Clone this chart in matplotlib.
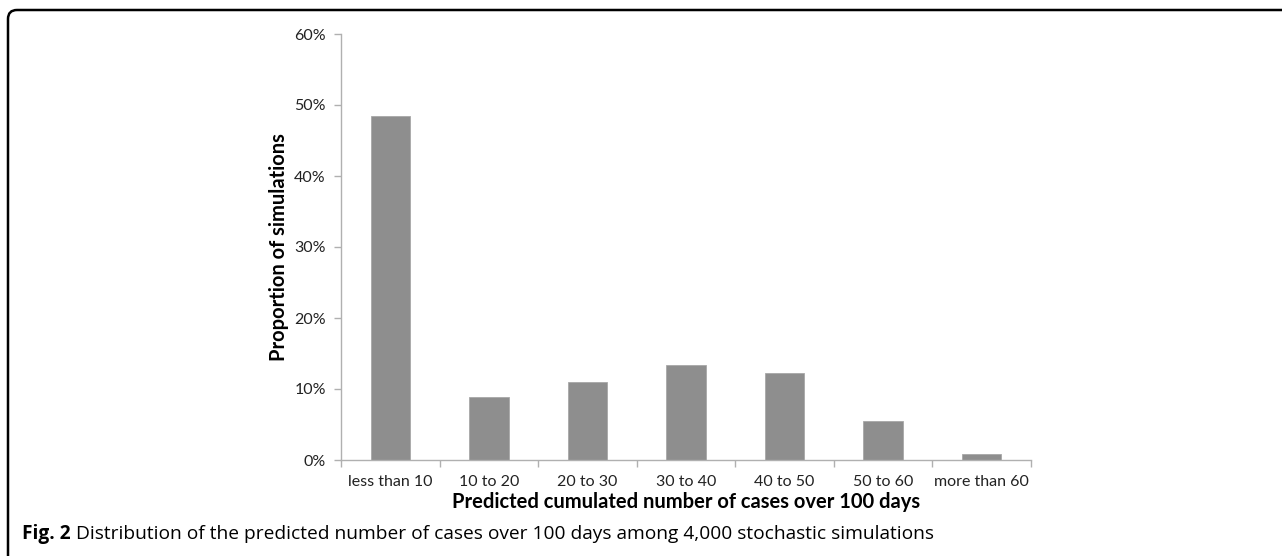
import numpy as np
import matplotlib.pyplot as plt
from matplotlib.patches import FancyBboxPatch

categories = ['less than 10', '10 to 20', '20 to 30', '30 to 40', '40 to 50', '50 to 60', 'more than 60']
proportions = [48.4, 8.9, 11.0, 13.4, 12.2, 5.5, 0.85]
yticks = [0, 10, 20, 30, 40, 50, 60]

plt.rcParams['font.family'] = ['Lato', 'DejaVu Sans']

fig = plt.figure(figsize=(12.82, 5.56), dpi=100)
ax = fig.add_axes([341/1282, 1-460/556, 690/1282, 426/556])

x = np.arange(len(categories))
ax.bar(x, proportions, width=0.4, color='#8e8e8e', edgecolor='#a8a8a8', linewidth=0.6)

ax.set_xlim(-0.5, len(categories) - 0.5)
ax.set_ylim(0, 60)
ax.set_yticks(yticks)
ax.set_yticklabels([f'{v}%' for v in yticks], fontsize=11.5, color='#222222')
ax.set_xticks(x)
ax.set_xticklabels(categories, fontsize=11.5, color='#222222')
ax.tick_params(axis='x', which='major', length=0, pad=11)
ax.set_xticks(np.arange(-0.5, len(categories)), minor=True)
ax.tick_params(axis='x', which='minor', length=5, color='#b0b0b0', width=1)
ax.tick_params(axis='y', length=5, color='#b0b0b0', width=1, pad=6)

for s in ['top', 'right']:
    ax.spines[s].set_visible(False)
for s in ['left', 'bottom']:
    ax.spines[s].set_color('#b0b0b0')
    ax.spines[s].set_linewidth(1)

ax.set_xlabel('Predicted cumulated number of cases over 100 days', fontsize=14.5, fontweight='bold', labelpad=2)
ax.set_ylabel('Proportion of simulations', fontsize=14.5, fontweight='bold', labelpad=4)

# caption
cap = fig.text(22/1282, 1-534/556, 'Fig. 2', fontsize=13.8, fontweight='bold',
               family=['Open Sans', 'DejaVu Sans'], va='center')
ax.annotate('Distribution of the predicted number of cases over 100 days among 4,000 stochastic simulations',
            xy=(1, 0.5), xycoords=cap, xytext=(5, 0), textcoords='offset pixels',
            fontsize=13.8, family=['Open Sans', 'DejaVu Sans'], va='center', annotation_clip=False)

# frame: rounded top-left corner, top and left edges only
r = 9
frame = FancyBboxPatch((8/1282, -0.5), 2.0, 1 - 10/556 + 0.5,
                       boxstyle=f'round,pad=0,rounding_size={r/1282}',
                       transform=fig.transFigure, fill=False, edgecolor='black', linewidth=1.8,
                       mutation_aspect=1282/556, clip_on=False)
fig.patches.append(frame)

fig.savefig('out.png', dpi=100)
